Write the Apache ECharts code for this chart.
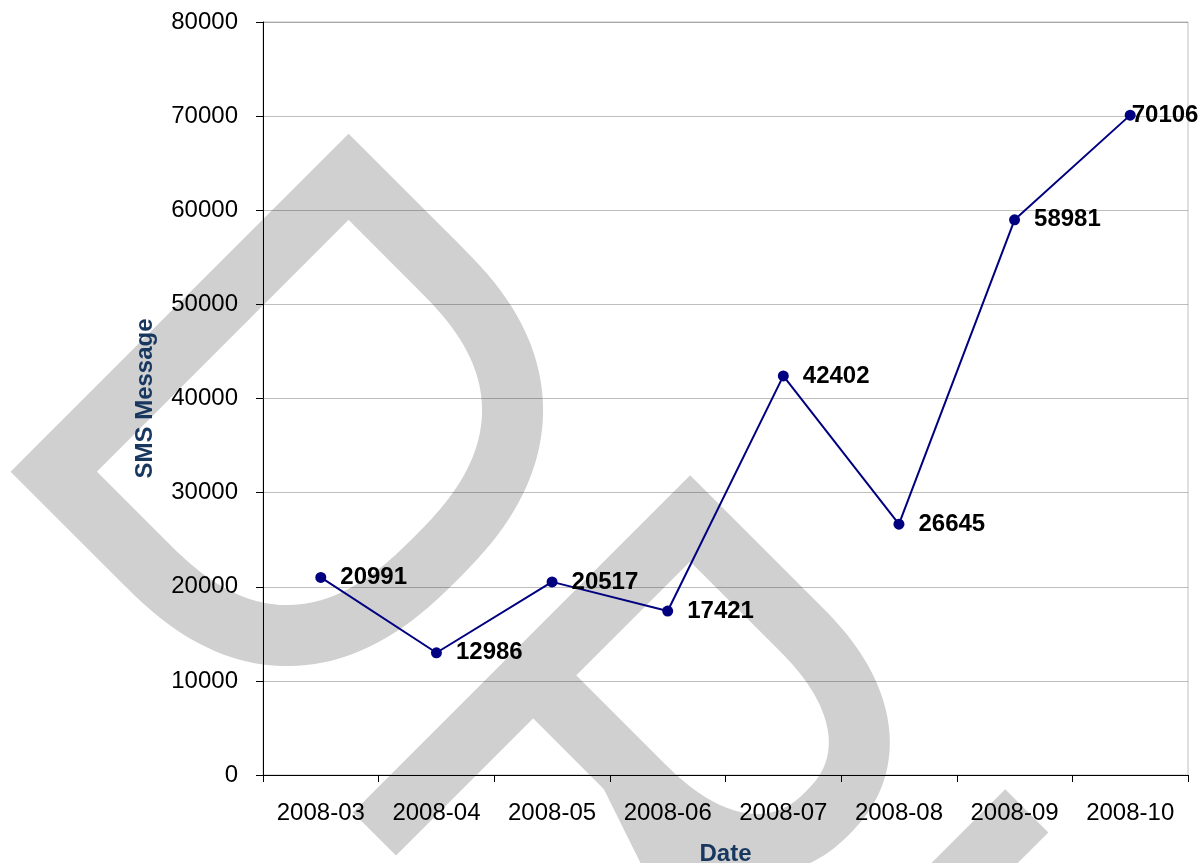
<!DOCTYPE html>
<html>
<head>
<meta charset="utf-8">
<title>SMS Message by month</title>
<script src="https://cdn.jsdelivr.net/npm/echarts@6/dist/echarts.min.js"></script>
<style>
  html, body { margin: 0; padding: 0; background: #ffffff; }
  #chart { width: 1203px; height: 863px; }
</style>
</head>
<body>
<div id="chart"></div>
<script>
// Monthly SMS message totals
const months = ['2008-03', '2008-04', '2008-05', '2008-06', '2008-07', '2008-08', '2008-09', '2008-10'];
const smsCounts = [20991, 12986, 20517, 17421, 42402, 26645, 58981, 70106];
const yMin = 0;
const yMax = 80000;
const yStep = 10000;

const FONT = '"Liberation Sans", Arial, Helvetica, sans-serif';
const NAVY = '#000080';
const TITLE_BLUE = '#17375E';

// ---- Background "DRAFT"-style stamp, drawn along a 45 degree baseline ----
// (u runs along the text, v runs up the letters)
const S2 = Math.SQRT2;
function toXY(u, v) { return [(u + v) / S2, (u - v) / S2]; }
function bowlPoints(u0, vc, a, b, p, n) {
  const pts = [];
  for (let i = 0; i <= n; i++) {
    const t = Math.PI / 2 - Math.PI * i / n;
    const c = Math.cos(t), s = Math.sin(t);
    const du = a * Math.sign(c) * Math.pow(Math.abs(c), 2 / p);
    const dv = b * Math.sign(s) * Math.pow(Math.abs(s), 2 / p);
    pts.push(toXY(u0 + du, vc + dv));
  }
  return pts;
}
const STAMP_W = 61;
const STAMP_STYLE = { fill: null, stroke: '#d0d0d0', lineWidth: STAMP_W, lineJoin: 'miter', miterLimit: 20, lineCap: 'butt' };

// letter D
const dPts = [toXY(371.5, -295.5), toXY(371.5, 121.5), toXY(500, 121.5)]
  .concat(bowlPoints(500, -87, 203, 208.5, 2.5, 80))
  .concat([toXY(500, -295.5)]);
// letter R: stem, bowl and middle bar
const rPts = [toXY(854.5, -325), toXY(854.5, 121.5), toXY(1010, 121.5)]
  .concat(bowlPoints(1010, 10.5, 150, 111, 2.3, 80))
  .concat([toXY(1010, -100.5), toXY(854.5, -100.5)]);
// letter R: leg
const legPts = [toXY(990, -100.5), toXY(1330, -215)];
// next letter: stem
const stemPts = [toXY(1299.4, 152.7), toXY(1299.4, -330)];

const stamp = [
  { type: 'polygon', shape: { points: dPts }, style: STAMP_STYLE, z: -10, silent: true },
  { type: 'polyline', shape: { points: rPts }, style: STAMP_STYLE, z: -10, silent: true },
  { type: 'polyline', shape: { points: legPts }, style: STAMP_STYLE, z: -10, silent: true },
  { type: 'polyline', shape: { points: stemPts }, style: STAMP_STYLE, z: -10, silent: true }
];

// Points with their value labels; the last label sits tight against the point
const seriesData = smsCounts.map((v, i) => {
  const item = { value: v };
  if (i === smsCounts.length - 1) item.label = { distance: -4 };
  return item;
});

const chart = echarts.init(document.getElementById('chart'), null, { renderer: 'canvas' });
chart.setOption({
  backgroundColor: '#ffffff',
  animation: false,
  graphic: { elements: stamp },
  grid: {
    left: 263, right: 15, top: 22, bottom: 88,
    show: true, backgroundColor: 'transparent',
    borderColor: '#c0c0c0', borderWidth: 1,
    outerBoundsMode: 'none'
  },
  xAxis: {
    type: 'category',
    data: months,
    boundaryGap: true,
    name: 'Date',
    nameLocation: 'middle',
    nameGap: 67,
    nameTextStyle: { fontFamily: FONT, fontSize: 24, fontWeight: 'bold', color: TITLE_BLUE },
    axisLine: { show: true, lineStyle: { color: '#000000', width: 1 } },
    axisTick: { show: true, interval: 0, length: 7, lineStyle: { color: '#000000' } },
    axisLabel: { interval: 0, margin: 26, fontFamily: FONT, fontSize: 24, color: '#000000' },
    splitLine: { show: false }
  },
  yAxis: {
    type: 'value',
    min: yMin, max: yMax, interval: yStep,
    name: 'SMS Message',
    nameLocation: 'middle',
    nameGap: 106,
    nameTextStyle: { fontFamily: FONT, fontSize: 24, fontWeight: 'bold', color: TITLE_BLUE },
    axisLine: { show: true, lineStyle: { color: '#000000', width: 1 } },
    axisTick: { show: true, length: 7, lineStyle: { color: '#000000' } },
    axisLabel: { margin: 25, fontFamily: FONT, fontSize: 24, color: '#000000', formatter: v => String(v) },
    splitLine: { show: true, lineStyle: { color: 'rgba(0,0,0,0.25)', width: 1 } }
  },
  series: [{
    type: 'line',
    data: seriesData,
    symbol: 'circle',
    symbolSize: 11,
    lineStyle: { color: NAVY, width: 2 },
    itemStyle: { color: NAVY },
    label: {
      show: true,
      position: 'right',
      distance: 14,
      fontFamily: FONT,
      fontSize: 24,
      fontWeight: 'bold',
      color: '#000000',
      formatter: p => String(p.value)
    },
    z: 5
  }]
});
</script>
</body>
</html>
